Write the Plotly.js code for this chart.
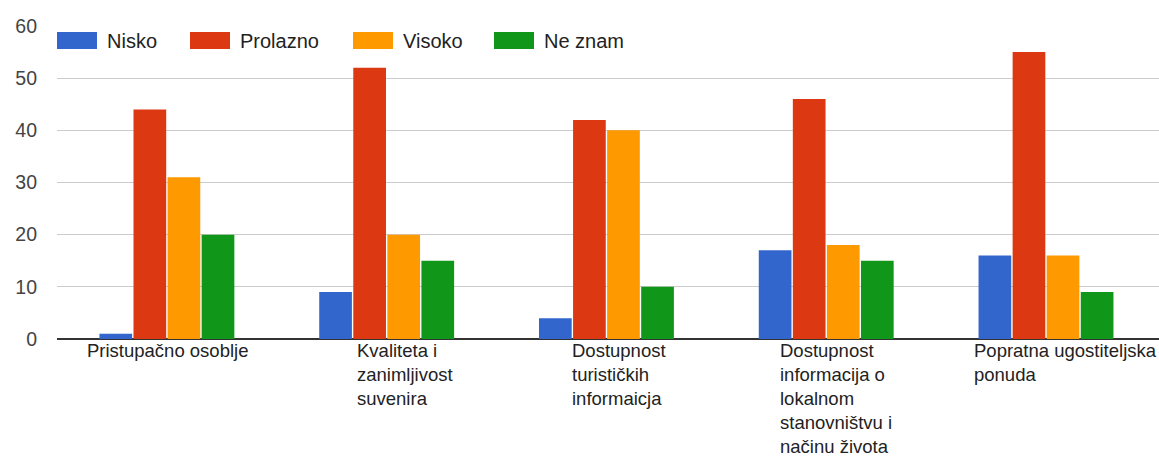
<!DOCTYPE html>
<html>
<head>
<meta charset="utf-8">
<script src="https://cdn.plot.ly/plotly-3.0.1.min.js"></script>
<style>
  html, body { margin: 0; padding: 0; background: #ffffff; }
  #chart { width: 1159px; height: 459px; }
</style>
</head>
<body>
<div id="chart"></div>
<script>
// ---- data ----
const categories = [
  "Pristupačno osoblje",
  "Kvaliteta i zanimljivost suvenira",
  "Dostupnost turističkih informaicja",
  "Dostupnost informacija o lokalnom stanovništvu i načinu života",
  "Popratna ugostiteljska ponuda"
];
const categoryLines = [
  ["Pristupačno osoblje"],
  ["Kvaliteta i", "zanimljivost", "suvenira"],
  ["Dostupnost", "turističkih", "informaicja"],
  ["Dostupnost", "informacija o", "lokalnom", "stanovništvu i", "načinu života"],
  ["Popratna ugostiteljska", "ponuda"]
];
const seriesNames = ["Nisko", "Prolazno", "Visoko", "Ne znam"];
const nisko    = [1, 9, 4, 17, 16];
const prolazno = [44, 52, 42, 46, 55];
const visoko   = [31, 20, 40, 18, 16];
const neZnam   = [20, 15, 10, 15, 9];
const yTicks   = [0, 10, 20, 30, 40, 50, 60];

// ---- styling ----
const colors = ["#3366cc", "#dc3912", "#ff9900", "#109618"];
const FONT = "Arial, 'Liberation Sans', sans-serif";
const seriesValues = [nisko, prolazno, visoko, neZnam];

const traces = seriesNames.map((name, i) => ({
  type: "bar",
  name: name,
  x: categories,
  y: seriesValues[i],
  marker: { color: colors[i] },
  showlegend: false,
  hoverinfo: "skip"
}));

// category label offsets (px, relative to category centre) and line spacing
const labelShift = [-82, -32, -36, -48, -74];
const lineStep = 24;

const annotations = [];
categoryLines.forEach((lines, ci) => {
  lines.forEach((line, li) => {
    annotations.push({
      x: categories[ci], xref: "x",
      y: 0, yref: "paper",
      xanchor: "left", yanchor: "top",
      xshift: labelShift[ci],
      yshift: 1 - li * lineStep,
      text: line,
      showarrow: false,
      align: "left",
      font: { family: FONT, size: 18.5, color: "#222222" }
    });
  });
});

// custom legend (wide swatches like the original)
const legendX = [57, 190, 353, 494];
const shapes = [];
seriesNames.forEach((name, i) => {
  shapes.push({
    type: "rect", xref: "paper", yref: "paper",
    xsizemode: "pixel", ysizemode: "pixel",
    xanchor: 0, yanchor: 1,
    x0: legendX[i] - 57, x1: legendX[i] - 57 + 40,
    y0: -6, y1: -23,
    fillcolor: colors[i], line: { width: 0 }
  });
  annotations.push({
    xref: "paper", yref: "paper",
    x: 0, y: 1,
    xanchor: "left", yanchor: "middle",
    xshift: legendX[i] - 57 + 48,
    yshift: -15,
    text: name, showarrow: false,
    font: { family: FONT, size: 20, color: "#222222" }
  });
});

const layout = {
  width: 1159, height: 459,
  margin: { l: 57, r: 0, t: 26, b: 120, pad: 0 },
  paper_bgcolor: "#ffffff",
  plot_bgcolor: "#ffffff",
  font: { family: FONT, color: "#444444" },
  barmode: "group",
  bargap: 0.38,
  bargroupgap: 0.04,
  showlegend: false,
  xaxis: {
    type: "category",
    showticklabels: false,
    showgrid: false,
    zeroline: false,
    showline: false,
    ticks: ""
  },
  yaxis: {
    range: [0, 60],
    tickvals: yTicks,
    ticktext: yTicks.map(String),
    showgrid: true,
    gridcolor: "#cccccc",
    gridwidth: 1,
    zeroline: true,
    zerolinecolor: "#333333",
    zerolinewidth: 2,
    showline: false,
    ticks: "",
    ticklabelstandoff: 19,
    tickfont: { family: FONT, size: 19.5, color: "#444444" },
    fixedrange: true
  },
  shapes: shapes,
  annotations: annotations
};

Plotly.newPlot("chart", traces, layout, { staticPlot: true, displayModeBar: false });
</script>
</body>
</html>
